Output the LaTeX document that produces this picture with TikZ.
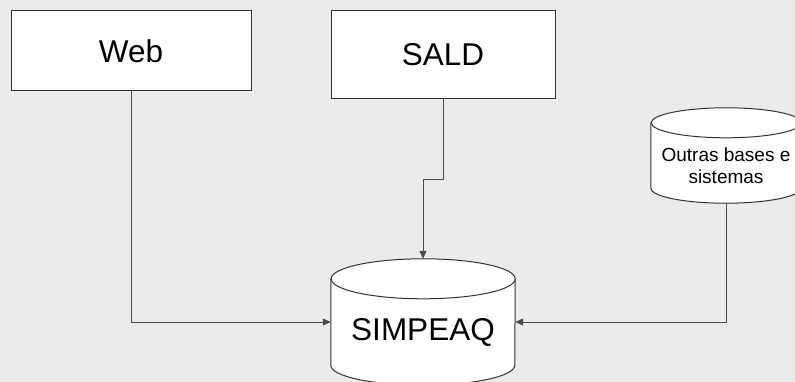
\documentclass[tikz,border=0pt]{standalone}
\usepackage{fontspec}
\setmainfont{Liberation Sans}
\usetikzlibrary{arrows.meta}
\tikzset{
  box/.style={draw=black!80,line width=1pt,fill=white,inner sep=0pt,font=\fontsize{31.5}{38}\selectfont},
  dbbody/.style={inner sep=0pt},
  link/.style={draw=black!70,line width=1pt,-{Triangle[length=8pt,width=7pt]}},
}
% cylinder outline round a node: name, x radius, y radius
\newcommand{\dbshape}[3]{%
\draw[black!80,line width=1pt,fill=white]([yshift=-#3]#1.north west)--([yshift=#3]#1.south west)
  arc[start angle=180,end angle=360,x radius=#2,y radius=#3]--([yshift=-#3]#1.north east)
  arc[start angle=0,end angle=180,x radius=#2,y radius=#3]--cycle;
\draw[black!80,line width=1pt]([yshift=-#3]#1.north east)
  arc[start angle=0,end angle=-180,x radius=#2,y radius=#3];
}
\begin{document}
\begin{tikzpicture}[x=1pt,y=-1pt]
\fill[black!8](0,0)rectangle(795,382);
\useasboundingbox(0,0)rectangle(795,382);
\node[box,minimum width=240pt,minimum height=80pt](web)at(131,51){Web};
\node[box,minimum width=224pt,minimum height=88pt](sald)at(443,55){SALD};
\node[dbbody,minimum width=184pt,minimum height=126pt](simpeaq)at(423,322){};
\node[dbbody,minimum width=150pt,minimum height=95pt](outras)at(726,155.5){};
\dbshape{simpeaq}{92pt}{20pt}
\dbshape{outras}{75pt}{15pt}
\node[font=\fontsize{31.5}{38}\selectfont](simpeaqtext)at([yshift=-10pt]simpeaq.center){SIMPEAQ};
\node[align=center,font=\fontsize{19}{22}\selectfont](outrastext)at([yshift=-10pt]outras.center){Outras bases e\\sistemas};
\draw[link](web.south)|-(simpeaq.west);
\draw[link](sald.south)--++(0,80)-|(simpeaq.north);
\draw[link](outras.south)|-(simpeaq.east);
\end{tikzpicture}
\end{document}
